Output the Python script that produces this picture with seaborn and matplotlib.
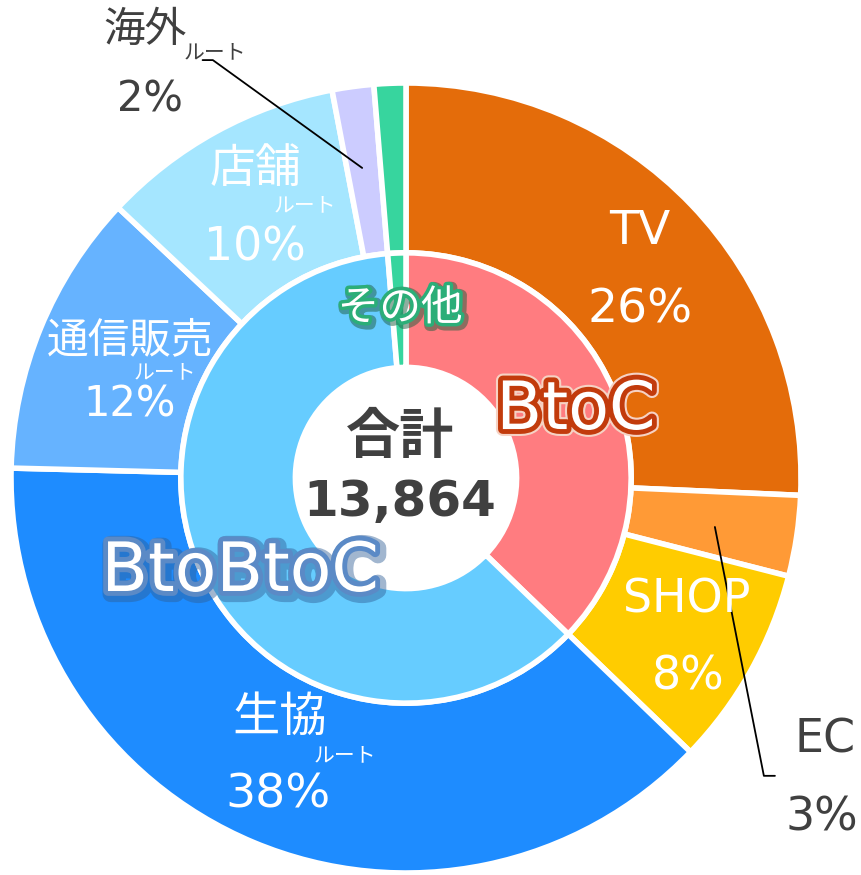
import matplotlib
matplotlib.use("Agg")
import matplotlib.pyplot as plt
import matplotlib.patheffects as pe
import seaborn as sns

# outer ring: sales route shares (%), clockwise from 12 o'clock
routes = ["TV", "EC", "SHOP", "生協", "通信販売", "店舗", "海外", "その他"]
route_share = [25.7, 3.3, 8.2, 38.2, 11.6, 10.0, 1.7, 1.3]
route_pct = ["26%", "3%", "8%", "38%", "12%", "10%", "2%", ""]
route_colors = ["#E46C0A", "#FF9A36", "#FFCC00", "#1E8CFF",
                "#66B3FF", "#A5E6FF", "#CCCCFF", "#37D59E"]

# inner ring: business type = sum of its routes
groups = ["BtoC", "BtoBtoC", "その他"]
group_members = [["TV", "EC", "SHOP"], ["生協", "通信販売", "店舗", "海外"], ["その他"]]
group_colors = ["#FF7C80", "#66CCFF", "#37D59E"]
group_share = [sum(route_share[routes.index(m)] for m in mem) for mem in group_members]

total_label = "合計"
total_value = "13,864"

sns.set_theme(style="white")
plt.rcParams["font.family"] = ["DejaVu Sans", "Noto Sans CJK JP"]

fig = plt.figure(figsize=(8.62, 8.75), dpi=100)
ax = fig.add_axes([(406 - 395) / 862, (397 - 395) / 875, 790 / 862, 790 / 875])

wp = dict(edgecolor="white", linewidth=4)
ax.pie(route_share, radius=1.0, colors=route_colors, startangle=90, counterclock=False,
       wedgeprops=dict(width=0.43, **wp))
ax.pie(group_share, radius=0.57, colors=group_colors, startangle=90, counterclock=False,
       wedgeprops=dict(width=0.29, **wp))
ax.set_xlim(-1, 1)
ax.set_ylim(-1, 1)
ax.set_aspect("equal")
ax.axis("off")

white = "white"
dark = "#404040"

# labels inside wedges (name, small "ルート", percent)
def route_label(name, xy_name, xy_pct, xy_sub=None, color=white, size=33, subsize=15):
    ax.text(*xy_name, name, ha="center", va="center", fontsize=size, color=color, clip_on=False)
    ax.text(*xy_pct, route_pct[routes.index(name)], ha="center", va="center",
            fontsize=size, color=color, clip_on=False)
    if xy_sub is not None:
        ax.text(*xy_sub, "ルート", ha="center", va="center", fontsize=subsize, color=color,
                clip_on=False)

route_label("TV", (0.592, 0.623), (0.592, 0.425), size=34)
route_label("SHOP", (0.711, -0.309), (0.714, -0.504), size=33)
route_label("生協", (-0.319, -0.608), (-0.324, -0.803), (-0.154, -0.701), size=34)
route_label("通信販売", (-0.699, 0.349), (-0.699, 0.185), (-0.610, 0.268), size=30)
route_label("店舗", (-0.382, 0.780), (-0.382, 0.582), (-0.256, 0.691), size=33)
route_label("EC", (1.061, -0.663), (1.053, -0.861), color=dark, size=33)
route_label("海外", (-0.662, 1.134), (-0.648, 0.957), (-0.484, 1.078), color=dark, size=30)

# leader lines
ax.plot([0.782, 0.906, 0.934], [-0.124, -0.754, -0.754], color="black", lw=1.3, clip_on=False)
ax.plot([-0.515, -0.489, -0.111], [1.058, 1.058, 0.785], color="black", lw=1.3, clip_on=False)

# inner ring labels with outlines
ax.text(0.430, 0.172, "BtoC", ha="center", va="center", fontsize=48, color=white,
        path_effects=[pe.Stroke(linewidth=10, foreground="#F6D2C4"),
                      pe.Stroke(linewidth=7, foreground="#C23B0C"), pe.Normal()])
ax.text(-0.420, -0.238, "BtoBtoC", ha="center", va="center", fontsize=49, color=white,
        path_effects=[pe.Stroke(linewidth=12, foreground="#2F5E95", alpha=0.45, offset=(2, -2)),
                      pe.Stroke(linewidth=7, foreground="#5B8AC6"), pe.Normal()])
ax.text(-0.015, 0.430, "その他", ha="center", va="center", fontsize=30, color=white,
        path_effects=[pe.Stroke(linewidth=8, foreground="#1F5E40", alpha=0.5, offset=(1.5, -1.5)),
                      pe.Stroke(linewidth=5, foreground="#2BAE78"), pe.Normal()])

# center total
ax.text(-0.015, 0.101, total_label, ha="center", va="center", fontsize=39,
        fontweight="bold", color=dark)
ax.text(-0.015, -0.061, total_value, ha="center", va="center", fontsize=36,
        fontweight="bold", color=dark)

fig.savefig("out.png", dpi=100)
